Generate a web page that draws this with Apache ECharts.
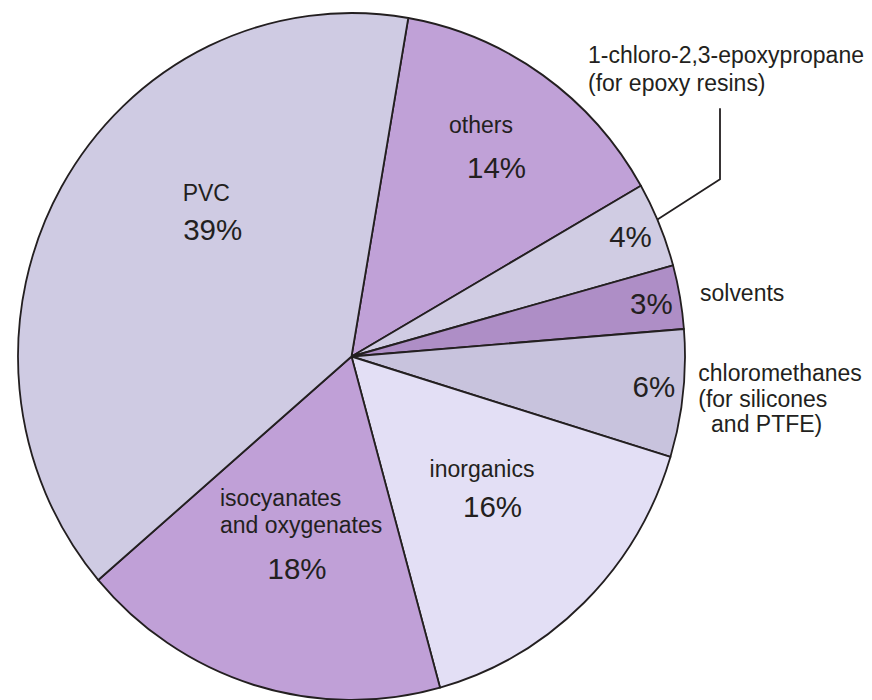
<!DOCTYPE html>
<html>
<head>
<meta charset="utf-8">
<script src="https://cdn.jsdelivr.net/npm/echarts@6/dist/echarts.min.js"></script>
<style>
html,body{margin:0;padding:0;background:#fff;overflow:hidden;}
#chart{width:872px;height:700px;transform:scaleY(1.03);transform-origin:0 356.5px;}
</style>
</head>
<body>
<div id="chart"></div>
<script>
// ---- data (clockwise from the top) ----
const categories = ['others', 'epoxy', 'solvents', 'chloromethanes', 'inorganics', 'isocyanates', 'PVC'];
const shares = [14, 4, 3, 6, 16, 18, 39];
const nameLabels = [
  'others',
  '1-chloro-2,3-epoxypropane\n(for epoxy resins)',
  'solvents',
  'chloromethanes\n(for silicones\n\u00a0\u00a0and PTFE)',
  'inorganics',
  'isocyanates\nand oxygenates',
  'PVC'
];
const colors = ['#c0a1d7', '#d0cce3', '#ae8ec6', '#c8c3dd', '#e3dff5', '#c0a0d7', '#cfcbe3'];

// ---- layout ----
const SY = 1.03, CX = 351.5, CY = 356.5, R = 333.5;
const cy = y => CY + (y - CY) / SY;
const pctPos = [[496.5,167],[630.5,236.7],[651.3,303.3],[653.8,386.7],[492.5,506],[297,568],[212.7,229]];
const namePos = [[481,125,'center'],[588,69,'left'],[700,293.3,'left'],[698.3,398.5,'left'],[482,469,'center'],[220,511.5,'left'],[182.7,193,'left']];
const lineHeights = [26, 27, 26, 24.5, 26, 26, 26];
const TXT = '#231f20';
const FONT = '"Liberation Sans", Arial, Helvetica, sans-serif';

const chart = echarts.init(document.getElementById('chart'), null, {renderer: 'svg'});

const fillData = categories.map((c, i) => ({
  name: c, value: shares[i],
  itemStyle: {color: colors[i]}
}));
const nameData = categories.map((c, i) => ({
  name: c, value: shares[i],
  label: {lineHeight: lineHeights[i]},
  labelLine: {show: i === 1}
}));

chart.setOption({
  animation: false,
  backgroundColor: '#fff',
  series: [
    {
      type: 'pie',
      center: [CX, CY],
      radius: [0, R],
      startAngle: 80.2,
      clockwise: true,
      avoidLabelOverlap: false,
      silent: true,
      emphasis: {disabled: true},
      itemStyle: {borderColor: TXT, borderWidth: 1.8},
      label: {
        show: true, position: 'inside',
        formatter: p => p.value + '%',
        color: TXT, fontSize: 29.5, fontFamily: FONT
      },
      labelLine: {show: false},
      labelLayout: p => {
        const q = pctPos[p.dataIndex];
        return {x: q[0], y: cy(q[1]), align: 'center', verticalAlign: 'middle'};
      },
      data: fillData
    },
    {
      type: 'pie',
      center: [CX, CY],
      radius: [0, R],
      startAngle: 80.2,
      clockwise: true,
      avoidLabelOverlap: false,
      silent: true,
      emphasis: {disabled: true},
      itemStyle: {color: 'rgba(0,0,0,0)', borderWidth: 0},
      label: {
        show: true, position: 'outside',
        formatter: p => nameLabels[p.dataIndex],
        color: TXT, fontSize: 23, fontFamily: FONT
      },
      labelLine: {show: false, length: 20, length2: 20, smooth: false,
        lineStyle: {color: TXT, width: 1.8}},
      labelLayout: p => {
        const i = p.dataIndex;
        const n = namePos[i];
        const out = {x: n[0], y: cy(n[1]), align: n[2], verticalAlign: 'middle'};
        if (i === 1) {
          out.labelLinePoints = [[656.7, cy(220)], [720, cy(179.3)], [720, cy(108.3)]];
        }
        return out;
      },
      data: nameData
    }
  ]
});
</script>
</body>
</html>
